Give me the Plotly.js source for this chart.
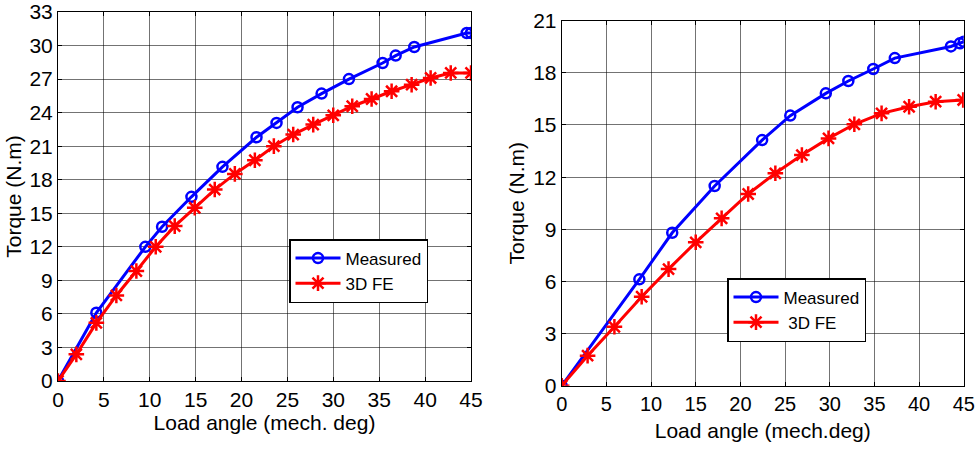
<!DOCTYPE html>
<html>
<head>
<meta charset="utf-8">
<script src="https://cdn.plot.ly/plotly-3.0.1.min.js"></script>
<style>html,body{margin:0;padding:0;background:#fff;}#chart{width:976px;height:453px;}</style>
</head>
<body>
<div id="chart"></div>
<script>
// Left chart
const leftMeasuredX = [0, 4.18, 9.52, 11.34, 14.54, 17.92, 21.63, 23.81, 26.1, 28.72, 31.7, 35.37, 36.79, 38.82, 44.53, 45.0];
const leftMeasuredY = [0, 6.1, 12.0, 13.79, 16.47, 19.15, 21.8, 23.08, 24.48, 25.7, 27.0, 28.44, 29.1, 29.87, 31.12, 31.12];
const leftFEX = [0, 2.0, 4.18, 6.36, 8.54, 10.65, 12.72, 14.9, 17.08, 19.27, 21.45, 23.52, 25.63, 27.81, 29.99, 32.06, 34.17, 36.35, 38.53, 40.6, 42.79, 45.0];
const leftFEY = [0, 2.38, 5.2, 7.65, 9.83, 12.0, 13.85, 15.49, 17.12, 18.52, 19.74, 21.0, 22.04, 22.93, 23.76, 24.57, 25.22, 25.91, 26.5, 27.1, 27.55, 27.55];
// Right chart
const rightMeasuredX = [0, 8.69, 12.37, 17.12, 22.43, 25.58, 29.56, 32.08, 34.87, 37.28, 43.56, 44.56, 45.0];
const rightMeasuredY = [0, 6.12, 8.8, 11.49, 14.13, 15.54, 16.82, 17.53, 18.22, 18.85, 19.52, 19.7, 19.79];
const rightFEX = [0, 2.9, 5.9, 8.95, 11.96, 15.0, 17.9, 20.87, 23.91, 26.88, 29.86, 32.75, 35.8, 38.88, 41.85, 44.93];
const rightFEY = [0, 1.73, 3.39, 5.12, 6.71, 8.25, 9.63, 11.03, 12.22, 13.27, 14.23, 15.04, 15.67, 16.05, 16.34, 16.44];

const leftNames = ["Measured", "3D FE"];
const rightNames = ["Measured", "\u00a03D FE"];
const xTicks = [0, 5, 10, 15, 20, 25, 30, 35, 40, 45];
const leftYTicks = [0, 3, 6, 9, 12, 15, 18, 21, 24, 27, 30, 33];
const rightYTicks = [0, 3, 6, 9, 12, 15, 18, 21];
const xTitles = ["Load angle (mech. deg)", "Load angle (mech.deg)"];
const yTitle = "Torque (N.m)";

const FONT = "Liberation Sans, Arial, sans-serif";
const blueStyle = {line: {color: "#0000ff", width: 3}, marker: {symbol: "circle-open", size: 10, color: "#0000ff", line: {width: 2.5, color: "#0000ff"}}};
const redStyle = {line: {color: "#ff0000", width: 3}, marker: {symbol: "asterisk-open", size: 13, color: "#ff0000", line: {width: 2.5, color: "#ff0000"}}};

const traces = [
  Object.assign({x: leftMeasuredX, y: leftMeasuredY, name: leftNames[0], mode: "lines+markers", type: "scatter", xaxis: "x", yaxis: "y", legend: "legend"}, blueStyle),
  Object.assign({x: leftFEX, y: leftFEY, name: leftNames[1], mode: "lines+markers", type: "scatter", xaxis: "x", yaxis: "y", legend: "legend"}, redStyle),
  Object.assign({x: rightMeasuredX, y: rightMeasuredY, name: rightNames[0], mode: "lines+markers", type: "scatter", xaxis: "x2", yaxis: "y2", legend: "legend2"}, blueStyle),
  Object.assign({x: rightFEX, y: rightFEY, name: rightNames[1], mode: "lines+markers", type: "scatter", xaxis: "x2", yaxis: "y2", legend: "legend2"}, redStyle)
];

function xAxis(dom, anchor, title, standoff, tsize) {
  return {
    domain: dom, anchor: anchor, range: [0, 45], tickvals: xTicks, ticktext: xTicks.map(String),
    showline: true, linecolor: "#000", linewidth: 1, mirror: "ticks", ticks: "inside", ticklen: 4, tickcolor: "#000",
    showgrid: true, gridcolor: "rgba(0,0,0,0.55)", gridwidth: 1, zeroline: false,
    tickfont: {family: FONT, size: tsize, color: "#000"}, ticklabeloverflow: "allow",
    title: {text: title, font: {family: FONT, size: 21, color: "#000"}, standoff: standoff},
    automargin: false
  };
}
function yAxis(dom, anchor, max, ticks, standoff) {
  return {
    domain: dom, anchor: anchor, range: [0, max], tickvals: ticks, ticktext: ticks.map(String),
    showline: true, linecolor: "#000", linewidth: 1, mirror: "ticks", ticks: "inside", ticklen: 4, tickcolor: "#000",
    showgrid: true, gridcolor: "rgba(0,0,0,0.55)", gridwidth: 1, zeroline: false,
    tickfont: {family: FONT, size: 21, color: "#000"}, ticklabeloverflow: "allow",
    title: {text: yTitle, font: {family: FONT, size: 21, color: "#000"}, standoff: standoff},
    automargin: false
  };
}

const legendBase = {
  bgcolor: "#fff", bordercolor: "#000", borderwidth: 1.5,
  font: {family: FONT, size: 17, color: "#000"}, itemwidth: 45, tracegroupgap: 0,
  xanchor: "left", yanchor: "top", xref: "paper", yref: "paper"
};

const layout = {
  width: 976, height: 453,
  margin: {l: 0, r: 0, t: 0, b: 0},
  paper_bgcolor: "#fff", plot_bgcolor: "#fff",
  showlegend: true,
  xaxis: xAxis([0.0594, 0.4826], "y", xTitles[0], 3, 21),
  yaxis: yAxis([0.159, 0.9735], "x", 33, leftYTicks, 2),
  xaxis2: xAxis([0.5755, 0.9875], "y2", xTitles[1], 9, 20),
  yaxis2: yAxis([0.1485, 0.9543], "x2", 21, rightYTicks, 2),
  legend: Object.assign({}, legendBase, {x: 289/976, y: 1 - 239/453}),
  legend2: Object.assign({}, legendBase, {x: 727/976, y: 1 - 278/453})
};

Plotly.newPlot("chart", traces, layout, {displayModeBar: false, staticPlot: true});
</script>
</body>
</html>
